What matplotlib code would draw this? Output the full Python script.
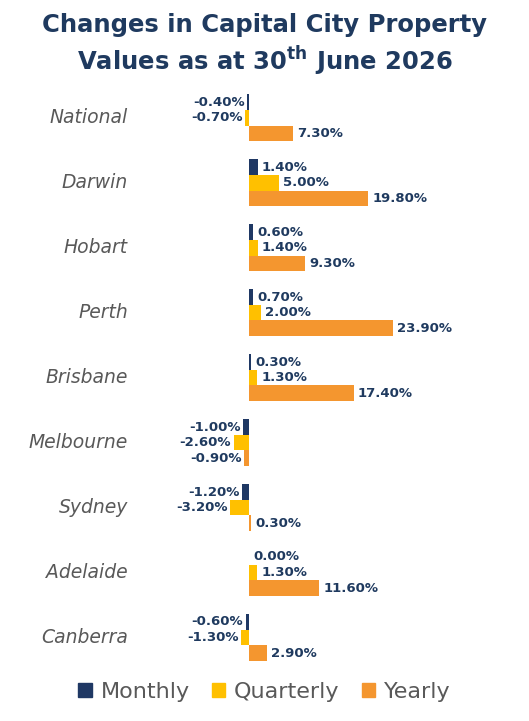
import matplotlib
matplotlib.use("Agg")
import matplotlib.pyplot as plt
from matplotlib.patches import Patch

cities = ["National","Darwin","Hobart","Perth","Brisbane","Melbourne","Sydney","Adelaide","Canberra"]
monthly = [-0.4,1.4,0.6,0.7,0.3,-1.0,-1.2,0.0,-0.6]
quarterly = [-0.7,5.0,1.4,2.0,1.3,-2.6,-3.2,1.3,-1.3]
yearly = [7.3,19.8,9.3,23.9,17.4,-0.9,0.3,11.6,2.9]

navy = "#1F3A5F"
cols = ["#1F3864","#FFC000","#F4962F"]
fig = plt.figure(figsize=(5.29,7.21), dpi=100)
fig.text(0.5, 0.965, "Changes in Capital City Property", ha="center", va="center", fontsize=17.5, fontweight="bold", color=navy)
fig.text(0.5, 0.915, r"Values as at 30$^{\mathbf{th}}$ June 2026", ha="center", va="center", fontsize=17.5, fontweight="bold", color=navy)
ax = fig.add_axes([0.42, 0.0707, 0.56, 0.811])
ax.set_xlim(-4.5, 44.8); ax.set_ylim(8.5, -0.5)
ax.axis("off")
h = 0.24
for off, vals, c in zip([-0.24,0,0.24],[monthly,quarterly,yearly],cols):
    for i, v in enumerate(vals):
        y = i+off
        ax.barh(y, v, height=h, color=c)
        if v < 0:
            ax.text(v-0.4, y, f"{v:.2f}%", ha="right", va="center", fontsize=9.5, fontweight="semibold", color=navy)
        else:
            ax.text(max(v,0)+0.7, y, f"{v:.2f}%", ha="left", va="center", fontsize=9.5, fontweight="semibold", color=navy)
for i, c in enumerate(cities):
    fig.text(128/529, 1-(85+65*i+32.5)/721, c, ha="right", va="center", fontsize=13.5, style="italic", color="#595959")
handles = [Patch(color=c) for c in cols]
fig.legend(handles, ["Monthly","Quarterly","Yearly"], loc="center", bbox_to_anchor=(0.5, 0.04), ncol=3, frameon=False,
           fontsize=16, handlelength=0.6, handleheight=0.6, columnspacing=1.0, handletextpad=0.4, labelcolor="#595959")
fig.savefig("out.png", dpi=100)
